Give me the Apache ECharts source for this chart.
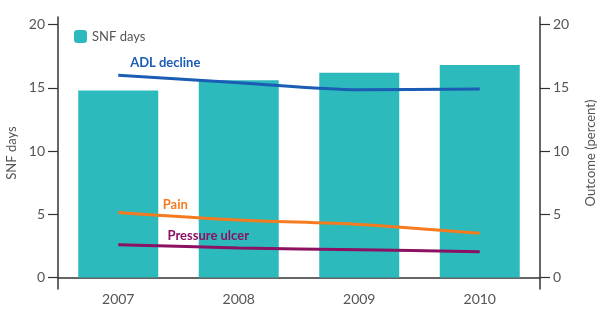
<!DOCTYPE html>
<html>
<head>
<meta charset="utf-8">
<script src="https://cdn.jsdelivr.net/npm/echarts@6/dist/echarts.min.js"></script>
<style>
  html, body { margin: 0; padding: 0; background: #fff; }
  #main { width: 602px; height: 311px; }
</style>
</head>
<body>
<div id="main"></div>
<script>
// chart data
var years = ['2007', '2008', '2009', '2010'];
var snfDays = [14.8, 15.6, 16.2, 16.8];
var adlDecline = [16.0, 15.4, 14.85, 14.9];
var pain = [5.15, 4.55, 4.2, 3.5];
var pressureUlcer = [2.6, 2.35, 2.2, 2.05];
var yTicks = [0, 5, 10, 15, 20];

var font = 'Lato';

// only the first point of each line carries the series label
function withLabel(values, text, color, offset) {
  return values.map(function (v, i) {
    if (i !== 0) return v;
    return {
      value: v,
      label: {
        show: true, position: 'top', offset: offset, formatter: text,
        color: color, fontWeight: 'bold', fontSize: 13, fontFamily: font
      }
    };
  });
}

var myChart = echarts.init(document.getElementById('main'));

var valueAxis = function (pos, name, nameGap) {
  return {
    type: 'value',
    position: pos,
    min: -0.9,
    max: 20.6,
    name: name,
    nameLocation: 'middle',
    nameGap: nameGap,
    nameTextStyle: { color: '#555', fontSize: 13, fontFamily: font },
    axisLine: { show: true, lineStyle: { color: '#333', width: 1.5 } },
    axisTick: { show: true, length: 10, customValues: yTicks, lineStyle: { color: '#333', width: 1.2 } },
    axisLabel: { customValues: yTicks, color: '#555', fontSize: 14, fontFamily: font, margin: 13 },
    splitLine: { show: false }
  };
};

function lineSeries(name, values, color, offset) {
  return {
    name: name,
    type: 'line',
    yAxisIndex: 1,
    smooth: 0.3,
    showSymbol: true,
    symbol: 'circle',
    symbolSize: 0,
    data: withLabel(values, name, color, offset),
    lineStyle: { color: color, width: 3 },
    itemStyle: { color: color }
  };
}

myChart.setOption({
  animation: false,
  grid: { left: 58, right: 62, top: 17, bottom: 22, outerBoundsMode: 'none' },
  legend: {
    data: ['SNF days'],
    left: 69,
    top: 25,
    itemWidth: 13,
    itemHeight: 13,
    itemGap: 8,
    textStyle: { color: '#555', fontSize: 13, fontFamily: font }
  },
  xAxis: {
    type: 'category',
    data: years,
    axisLine: { onZero: true, lineStyle: { color: '#333', width: 1.5 } },
    axisTick: { alignWithLabel: true, length: 8, lineStyle: { color: '#333', width: 1.2 } },
    axisLabel: { color: '#555', fontSize: 14, fontFamily: font, margin: 3 }
  },
  yAxis: [
    valueAxis('left', 'SNF days', 38),
    valueAxis('right', 'Outcome (percent)', 44)
  ],
  series: [
    {
      name: 'SNF days',
      type: 'bar',
      data: snfDays,
      barWidth: 80,
      itemStyle: { color: '#2dbabd' }
    },
    lineSeries('ADL decline', adlDecline, '#1b5cb5', [47, -1]),
    lineSeries('Pain', pain, '#f47b20', [57, 4]),
    lineSeries('Pressure ulcer', pressureUlcer, '#8c1162', [90, 3])
  ]
});
</script>
</body>
</html>
